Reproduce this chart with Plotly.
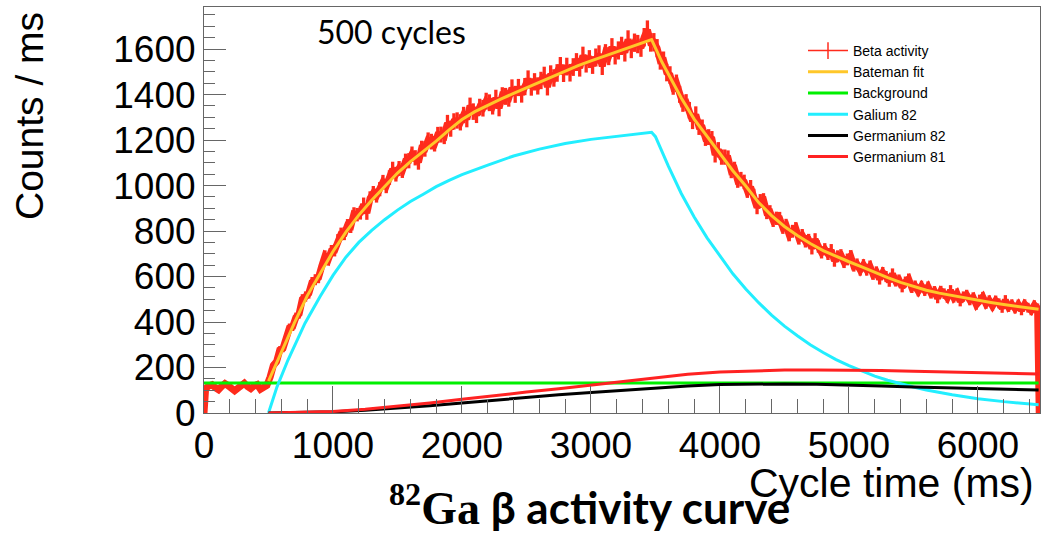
import numpy as np
import plotly.graph_objects as go

# ---------------- data ----------------
# Beta activity histogram: 25 ms bins from 0 to 6475 ms
bin_width = 25
beta_t = np.arange(12.5, 6475, bin_width)
beta_counts = [
    108, 119, 124, 111, 102, 117, 129, 120, 113, 98, 109, 122, 131, 116, 107, 119,
    125, 104, 114, 121,
    158, 209, 226, 277, 284, 330, 374, 380, 421, 436, 500, 512,
    526, 574, 586, 595, 645, 689, 674, 712, 715, 759, 787, 788,
    824, 820, 875, 872, 880, 917, 879, 944, 967, 956, 984, 1015,
    998, 1035, 1072, 1050, 1075, 1066, 1107, 1109, 1138, 1122, 1103, 1163,
    1161, 1199, 1193, 1184, 1223, 1224, 1217, 1275, 1250, 1282, 1286, 1278,
    1310, 1292, 1350, 1325, 1311, 1345, 1340, 1371, 1364, 1349, 1384, 1341,
    1395, 1392, 1384, 1429, 1401, 1431, 1402, 1435, 1468, 1433, 1456, 1438,
    1462, 1484, 1434, 1490, 1473, 1495, 1526, 1494, 1523, 1496, 1521, 1543,
    1518, 1571, 1536, 1556, 1530, 1563, 1577, 1525, 1582, 1569, 1608, 1572,
    1594, 1614, 1585, 1642, 1600, 1628, 1622, 1606, 1652, 1685, 1629, 1630,
    1604, 1549, 1550, 1497, 1486, 1437, 1450, 1401, 1361, 1365, 1331, 1284,
    1312, 1258, 1255, 1209, 1213, 1205, 1135, 1157, 1125, 1125, 1121, 1065,
    1072, 1022, 1028, 1016, 977, 993, 955, 904, 932, 936, 882, 884,
    847, 856, 855, 816, 825, 783, 799, 811, 768, 781, 755, 760,
    724, 763, 732, 706, 720, 699, 716, 669, 689, 694, 663, 675,
    690, 647, 654, 629, 651, 629, 645, 610, 620, 589, 617, 600,
    579, 611, 580, 585, 554, 576, 589, 551, 559, 536, 558, 538,
    555, 526, 535, 505, 536, 525, 507, 539, 508, 525, 491, 512,
    519, 496, 508, 476, 498, 510, 480, 495, 471, 494, 482, 462,
    496, 466, 478, 459, 477, 451, 478, 463, 451, 474, 460,
]
hist_edges = [0, 6475]

# Bateman fit (total)
fit_t = [500, 600, 700, 800, 900, 1000, 1100, 1200, 1300, 1400, 1500, 1600, 1700, 1800, 1900,
         2000, 2100, 2200, 2300, 2400, 2500, 2600, 2700, 2800, 2900, 3000, 3100, 3200, 3300,
         3400, 3470, 3550, 3600, 3700, 3800, 3900, 4000, 4100, 4200, 4300, 4400, 4500, 4600,
         4700, 4800, 4900, 5000, 5100, 5200, 5300, 5400, 5500, 5600, 5700, 5800, 5900, 6000,
         6100, 6200, 6300, 6400, 6470]
fit_y = [140, 270, 395, 515, 615, 710, 795, 870, 935, 995, 1055, 1105, 1150, 1195, 1245,
         1290, 1325, 1354, 1380, 1405, 1430, 1455, 1480, 1505, 1527, 1548, 1568, 1588, 1607,
         1627, 1642, 1543, 1490, 1385, 1292, 1215, 1140, 1065, 998, 925, 868, 820, 780,
         745, 714, 688, 665, 642, 617, 595, 574, 556, 540, 527, 516, 505, 495,
         486, 477, 469, 461, 456]

# Background
bg_t = [0, 6470]
bg_y = [132, 132]

# Galium 82
ga_t = [500, 566, 651, 700, 783, 900, 1000, 1100, 1200, 1300, 1400, 1500, 1600, 1700, 1800,
        1900, 2000, 2200, 2400, 2600, 2800, 3000, 3200, 3400, 3470, 3500, 3550, 3600, 3700,
        3800, 3900, 4000, 4100, 4200, 4300, 4400, 4500, 4600, 4700, 4800, 4900, 5000, 5100,
        5200, 5300, 5400, 5500, 5600, 5800, 6000, 6200, 6470]
ga_y = [0, 115, 233, 295, 395, 512, 605, 685, 750, 803, 850, 892, 930, 962, 995,
        1023, 1048, 1090, 1130, 1160, 1185, 1203, 1217, 1229, 1234, 1215, 1150, 1085, 965,
        862, 770, 690, 612, 545, 485, 430, 382, 340, 300, 266, 235, 208, 184,
        162, 144, 128, 114, 101, 80, 63, 50, 36]

# Germanium 82 and Germanium 81
ge_t = [500, 750, 1000, 1250, 1500, 1750, 2000, 2250, 2500, 2750, 3000, 3250, 3500, 3750,
        4000, 4250, 4500, 4750, 5000, 5250, 5500, 5750, 6000, 6250, 6470]
ge82_y = [0, 1, 5, 12, 21, 32, 44, 57, 68, 80, 90, 100, 109, 119,
          125, 128, 128, 126, 124, 119, 114, 110, 107, 104, 101]
ge81_y = [0, 2, 7, 16, 29, 44, 60, 77, 92, 107, 122, 138, 155, 170,
          180, 186, 189, 189, 189, 187, 184, 181, 178, 175, 172]

x_ticks = [0, 1000, 2000, 3000, 4000, 5000, 6000]
y_ticks = [0, 200, 400, 600, 800, 1000, 1200, 1400, 1600]

# ---------------- styles ----------------
RED = "#ff2b1c"
ORANGE = "#ffc72a"
GREEN = "#00f000"
CYAN = "#22eeff"
FONT = "Liberation Sans"

# plot area in pixels (for placing free text)
L, R, T, B = 204, 1040, 7, 413
def px(xp):
    return (xp - L) / (R - L)
def py(yp):
    return (B - yp) / (B - T)

fig = go.Figure()

hx = [hist_edges[0]] + list(beta_t) + [hist_edges[1]]
hy = [0] + beta_counts + [0]
fig.add_trace(go.Scatter(
    x=hx, y=hy, mode="lines", line=dict(color=RED, width=7),
    error_y=dict(type="sqrt", color=RED, thickness=3.3, width=0),
    showlegend=False, hoverinfo="skip"))

fig.add_trace(go.Scatter(x=fit_t, y=fit_y, mode="lines", line=dict(color=ORANGE, width=3),
                         showlegend=False))
fig.add_trace(go.Scatter(x=bg_t, y=bg_y, mode="lines", line=dict(color=GREEN, width=3),
                         showlegend=False))
fig.add_trace(go.Scatter(x=ga_t, y=ga_y, mode="lines", line=dict(color=CYAN, width=3),
                         showlegend=False))
fig.add_trace(go.Scatter(x=ge_t, y=ge82_y, mode="lines", line=dict(color="black", width=3),
                         showlegend=False))
fig.add_trace(go.Scatter(x=ge_t, y=ge81_y, mode="lines", line=dict(color="#ff2222", width=3),
                         showlegend=False))

# legend entries
leg = [("Beta activity", RED), ("Bateman fit", ORANGE), ("Background", GREEN),
       ("Galium 82", CYAN), ("Germanium 82", "black"), ("Germanium 81", "#ff2222")]
for i, (name, col) in enumerate(leg):
    if i == 0:
        fig.add_trace(go.Scatter(x=[None], y=[None], mode="lines+markers", name=name,
                                 line=dict(color=col, width=1.5),
                                 marker=dict(symbol="line-ns", size=12,
                                             line=dict(color=col, width=1.5))))
    else:
        fig.add_trace(go.Scatter(x=[None], y=[None], mode="lines", name=name,
                                 line=dict(color=col, width=3)))

axis_common = dict(showgrid=False, zeroline=False, showline=True, mirror=True,
                   linecolor="#666666", linewidth=1, ticks="inside", tickcolor="#666666",
                   tickwidth=1, tickfont=dict(family=FONT, size=37, color="black"))

fig.update_xaxes(range=[0, 6481], tickvals=x_ticks, ticklen=27,
                 minor=dict(dtick=200, ticks="inside", ticklen=14, tickcolor="#666666"),
                 **axis_common)
fig.update_yaxes(range=[0, 1785], tickvals=y_ticks, ticklen=22,
                 minor=dict(dtick=50, ticks="inside", ticklen=11, tickcolor="#666666"),
                 **axis_common)

title_html = ("<b><span style=\"font-family:'Liberation Serif';font-size:46px\">"
              "<sup>82</sup>Ga</span> β activity curve</b>")
annotations = [
    dict(text="500 cycles", x=px(391), y=py(31), xref="paper", yref="paper",
         xanchor="center", yanchor="middle",
         showarrow=False, font=dict(family="Lato", size=32, color="black")),
    dict(text="Counts / ms", x=px(30), y=py(116), xref="paper", yref="paper",
         xanchor="center", yanchor="middle",
         showarrow=False, textangle=-90, font=dict(family=FONT, size=39, color="black")),
    dict(text="Cycle time (ms)", x=px(1036), y=py(483), xref="paper", yref="paper",
         xanchor="right", yanchor="middle",
         showarrow=False, font=dict(family=FONT, size=41, color="black")),
    dict(text=title_html, x=px(589), y=py(505), xref="paper", yref="paper",
         xanchor="center", yanchor="middle", showarrow=False,
         font=dict(family="Lato", size=44, color="black")),
]

fig.update_layout(
    width=1041, height=534,
    margin=dict(l=L, r=1041 - R, t=T, b=534 - B),
    paper_bgcolor="white", plot_bgcolor="white",
    annotations=annotations,
    legend=dict(x=px(803), y=py(35), xanchor="left", yanchor="top",
                bgcolor="rgba(0,0,0,0)", font=dict(family=FONT, size=14, color="black"),
                itemwidth=40, tracegroupgap=0),
)

fig.write_html("out.html")
